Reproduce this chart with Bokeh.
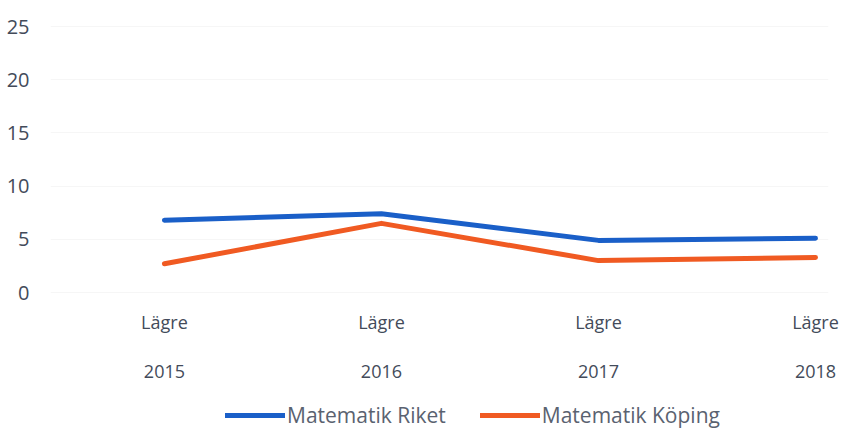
from bokeh.plotting import figure
from bokeh.layouts import column
from bokeh.models import (LinearAxis, FixedTicker, Range1d, Legend, LegendItem,
                          ColumnDataSource)
from bokeh.embed import file_html
from bokeh.resources import INLINE

# ---- data ----
years = ["2015", "2016", "2017", "2018"]
level_labels = ["Lägre", "Lägre", "Lägre", "Lägre"]
riket = [6.8, 7.4, 4.9, 5.1]
koping = [2.7, 6.5, 3.0, 3.3]
y_ticks = [0, 5, 10, 15, 20, 25]
series_names = ["Matematik Riket", "Matematik Köping"]
colors = ["#1a5fc8", "#f05a22"]

xs = list(range(len(years)))
FONT = "Open Sans"
TXT = "#434b5a"

p = figure(width=842, height=395, output_backend="svg", toolbar_location=None,
           x_range=Range1d(-0.525, 3.06), y_range=Range1d(-0.75, 25.94),
           min_border_left=50, min_border_right=14, min_border_top=16,
           min_border_bottom=95)
p.outline_line_color = None
p.background_fill_color = "white"
p.border_fill_color = "white"

# y axis
p.yaxis.ticker = FixedTicker(ticks=y_ticks)
p.yaxis.axis_line_color = None
p.yaxis.major_tick_line_color = None
p.yaxis.minor_tick_line_color = None
p.yaxis.major_label_standoff = 15
p.yaxis.major_label_text_font = FONT
p.yaxis.major_label_text_font_size = "20px"
p.yaxis.major_label_text_color = TXT

# x axis (level labels)
p.xaxis.ticker = FixedTicker(ticks=xs)
p.xaxis.major_label_overrides = {i: lab for i, lab in zip(xs, level_labels)}
p.xaxis.axis_line_color = None
p.xaxis.major_tick_line_color = None
p.xaxis.minor_tick_line_color = None
p.xaxis.major_label_standoff = 3
p.xaxis.major_label_text_font = FONT
p.xaxis.major_label_text_font_size = "18px"
p.xaxis.major_label_text_color = TXT

# second axis with years
ax2 = LinearAxis(ticker=FixedTicker(ticks=xs),
                 major_label_overrides={i: y for i, y in zip(xs, years)})
ax2.axis_line_color = None
ax2.major_tick_line_color = None
ax2.minor_tick_line_color = None
ax2.major_label_standoff = 22
ax2.major_label_text_font = FONT
ax2.major_label_text_font_size = "18px"
ax2.major_label_text_color = TXT
p.add_layout(ax2, "below")

# grid
p.xgrid.grid_line_color = None
p.ygrid.ticker = FixedTicker(ticks=y_ticks)
p.ygrid.grid_line_color = "#f6f6f6"
p.ygrid.grid_line_width = 1

src = ColumnDataSource(dict(x=xs, riket=riket, koping=koping))
p.line("x", "riket", source=src, line_color=colors[0], line_width=5,
       line_cap="round", line_join="round")
p.line("x", "koping", source=src, line_color=colors[1], line_width=5,
       line_cap="round", line_join="round")

# legend strip (separate figure so the legend is not clipped by the main frame);
# its series renderers lie outside its own (empty) view range
lf = figure(width=842, height=34, output_backend="svg", toolbar_location=None,
            min_border=0, x_axis_type=None, y_axis_type=None,
            x_range=Range1d(0, 1), y_range=Range1d(1000, 1001))
lf.outline_line_color = None
lf.grid.visible = False
lr1 = lf.line("x", "riket", source=src, line_color=colors[0], line_width=5,
              line_cap="round")
lr2 = lf.line("x", "koping", source=src, line_color=colors[1], line_width=5,
              line_cap="round")
legend = Legend(items=[LegendItem(label=series_names[0], renderers=[lr1]),
                       LegendItem(label=series_names[1], renderers=[lr2])],
                orientation="horizontal", location=(175, 0),
                glyph_width=60, glyph_height=20, label_standoff=2,
                spacing=34, padding=0, margin=0,
                border_line_color=None, background_fill_alpha=0,
                label_text_font=FONT, label_text_font_size="21px",
                label_text_color="#5a6270")
lf.add_layout(legend)

open("out.html", "w").write(file_html(column(p, lf, spacing=0), INLINE))
